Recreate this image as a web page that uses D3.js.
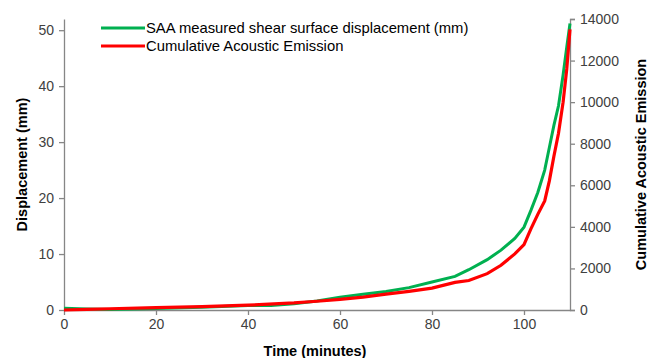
<!DOCTYPE html>
<html>
<head>
<meta charset="utf-8">
<script src="https://cdn.jsdelivr.net/npm/d3@7"></script>
<style>
  body { margin: 0; background: #fff; }
  svg { font-family: "Liberation Sans", Arial, sans-serif; }
</style>
</head>
<body>
<svg></svg>
<script>
// displacement series (left axis, mm)
let dispTime = [0, 5, 10, 20, 30, 40, 45, 50, 55, 60, 65, 70, 75, 80, 85, 88, 92, 95, 98, 100, 101.5, 103, 104.5, 105.5, 106.5, 107.5, 108.5, 109.3, 110];
let dispValues = [0.3, 0.2, 0.1, 0.25, 0.5, 0.8, 0.8, 1.1, 1.6, 2.3, 2.8, 3.3, 4.0, 5.0, 6.0, 7.2, 9.0, 10.7, 12.8, 14.8, 17.8, 21, 25, 29, 33, 36.5, 42, 47, 51.2];

// cumulative AE series (right axis)
let aeTime = [0, 5, 10, 20, 30, 40, 50, 55, 60, 65, 70, 75, 80, 85, 88, 92, 95, 98, 100, 101.5, 103, 104.5, 105.5, 106.5, 107.5, 108.5, 109.3, 110];
let aeValues = [0, 30, 60, 110, 160, 230, 340, 420, 510, 620, 760, 900, 1050, 1330, 1420, 1750, 2150, 2700, 3150, 3900, 4600, 5250, 6200, 7400, 8500, 10000, 11600, 13500];

let xTicks = [0, 20, 40, 60, 80, 100];
let leftTicks = [0, 10, 20, 30, 40, 50];
let rightTicks = [0, 2000, 4000, 6000, 8000, 10000, 12000, 14000];

let seriesNames = ["SAA measured shear surface displacement (mm)", "Cumulative Acoustic Emission"];
let seriesColors = ["#00B050", "#FF0000"];

let width = 655, height = 358;
let plotLeft = 64, plotRight = 570, plotTop = 19, plotBottom = 310;

let svg = d3.select("svg").attr("width", width).attr("height", height);

let x = d3.scaleLinear().domain([0, 110]).range([plotLeft, plotRight]);
let yL = d3.scaleLinear().domain([0, 52]).range([plotBottom, plotTop]);
let yR = d3.scaleLinear().domain([0, 14000]).range([plotBottom, plotTop]);

function styleAxis(g) {
  g.select(".domain").attr("stroke", "#868686").attr("stroke-width", 1.3);
  g.selectAll(".tick line").attr("stroke", "#868686").attr("stroke-width", 1.3);
  g.selectAll(".tick text").attr("fill", "#404040").style("font-size", "14px");
}

svg.append("g")
  .attr("transform", `translate(0,${plotBottom})`)
  .call(d3.axisBottom(x).tickValues(xTicks).tickSize(5).tickSizeOuter(0).tickPadding(4))
  .call(styleAxis);

svg.append("g")
  .attr("transform", `translate(${plotLeft},0)`)
  .call(d3.axisLeft(yL).tickValues(leftTicks).tickSize(5).tickSizeOuter(0).tickPadding(5))
  .call(styleAxis);

svg.append("g")
  .attr("transform", `translate(${plotRight},0)`)
  .call(d3.axisRight(yR).tickValues(rightTicks).tickFormat(d3.format("d")).tickSize(5).tickSizeOuter(5).tickPadding(5))
  .call(styleAxis);

// lines
let dispLine = d3.line().x((d, i) => x(dispTime[i])).y(d => yL(d));
let aeLine = d3.line().x((d, i) => x(aeTime[i])).y(d => yR(d));

svg.append("path")
  .attr("d", dispLine(dispValues))
  .attr("fill", "none")
  .attr("stroke", seriesColors[0])
  .attr("stroke-width", 3);

svg.append("path")
  .attr("d", aeLine(aeValues))
  .attr("fill", "none")
  .attr("stroke", seriesColors[1])
  .attr("stroke-width", 3.2);

// axis titles
svg.append("text")
  .attr("transform", `translate(27,${(plotTop + plotBottom) / 2}) rotate(-90)`)
  .attr("text-anchor", "middle")
  .attr("font-weight", "bold")
  .attr("font-size", "14.5px")
  .attr("fill", "#000")
  .text("Displacement (mm)");

svg.append("text")
  .attr("transform", `translate(646,${(plotTop + plotBottom) / 2}) rotate(-90)`)
  .attr("text-anchor", "middle")
  .attr("font-weight", "bold")
  .attr("font-size", "14.5px")
  .attr("fill", "#000")
  .text("Cumulative Acoustic Emission");

svg.append("text")
  .attr("x", (plotLeft + plotRight) / 2 - 2)
  .attr("y", 356)
  .attr("text-anchor", "middle")
  .attr("font-weight", "bold")
  .attr("font-size", "14.5px")
  .attr("fill", "#000")
  .text("Time (minutes)");

// legend
let legend = svg.append("g");
seriesNames.forEach((name, i) => {
  let ly = 28 + i * 18;
  legend.append("line")
    .attr("x1", 101).attr("x2", 145)
    .attr("y1", ly).attr("y2", ly)
    .attr("stroke", seriesColors[i])
    .attr("stroke-width", 3);
  legend.append("text")
    .attr("x", 146).attr("y", ly + 5)
    .attr("font-size", "14.8px")
    .attr("fill", "#000")
    .text(name);
});
</script>
</body>
</html>
